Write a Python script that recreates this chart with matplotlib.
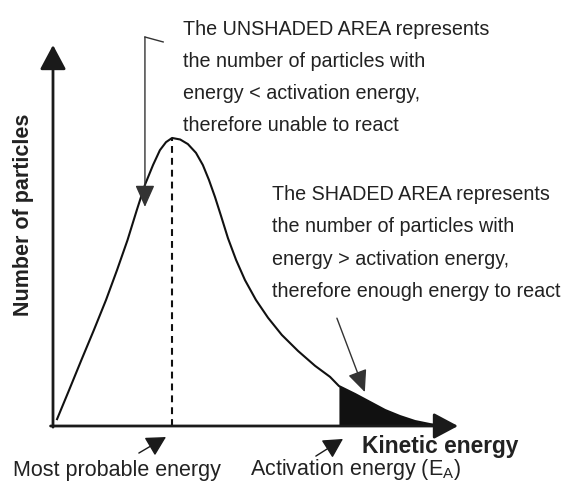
import numpy as np
import matplotlib
matplotlib.use("Agg")
import matplotlib.pyplot as plt

plt.rcParams["font.family"] = ["Liberation Sans", "DejaVu Sans"]

W, H = 563, 484

# curve (energy, number of particles), axes 0..10
energy = np.array([0.10, 0.40, 0.70, 1.01, 1.31, 1.58, 1.84, 2.07, 2.27, 2.47,
                   2.64, 2.79, 2.94, 3.14, 3.33, 3.53, 3.70, 3.85, 4.00, 4.15,
                   4.32, 4.52, 4.74, 5.01, 5.31, 5.65, 6.05, 6.47, 6.84, 7.06,
                   7.46, 7.83, 8.20, 8.57, 8.94, 9.31, 9.56])
count = np.array([0.18, 0.95, 1.73, 2.52, 3.31, 4.09, 4.88, 5.67, 6.33, 6.85,
                  7.24, 7.45, 7.56, 7.52, 7.40, 7.17, 6.85, 6.46, 6.01, 5.51,
                  4.93, 4.36, 3.83, 3.31, 2.84, 2.39, 1.97, 1.58, 1.29, 1.05,
                  0.84, 0.63, 0.42, 0.26, 0.13, 0.05, 0.01])
activation_energy = 7.06

unshaded_text = ["The UNSHADED AREA represents",
                 "the number of particles with",
                 "energy < activation energy,",
                 "therefore unable to react"]
shaded_text = ["The SHADED AREA represents",
               "the number of particles with",
               "energy > activation energy,",
               "therefore enough energy to react"]

TXT = "#222222"


def fpos(x, y):
    # pixel position -> figure fraction
    return x / W, 1 - y / H


fig = plt.figure(figsize=(W / 100, H / 100), dpi=100)
ax = fig.add_axes([53 / W, (H - 426) / H, 405 / W, 381 / H])
ax.set_xlim(0, 10)
ax.set_ylim(0, 10)
ax.axis("off")

# axes with arrow heads
axis_arrow = dict(arrowstyle="-|>,head_length=1.5,head_width=0.8",
                  mutation_scale=10, lw=2.0, color="#1a1a1a",
                  shrinkA=0, shrinkB=0)
ax.annotate("", xy=(10, 0), xytext=(-0.06, 0), arrowprops=axis_arrow,
            annotation_clip=False)
ax.annotate("", xy=(0, 10), xytext=(0, -0.03), arrowprops=axis_arrow,
            annotation_clip=False)

# distribution curve
ax.plot(energy, count, color="#111111", lw=1.5, solid_joinstyle="round",
        clip_on=False)

# shaded area above activation energy
mask = energy >= activation_energy
ax.fill_between(energy[mask], count[mask], 0, color="#111111", lw=0)

# most probable energy
i_peak = np.argmax(count)
ax.plot([energy[i_peak], energy[i_peak]], [0, count[i_peak]],
        color="#111111", lw=1.5, linestyle=(0, (3.3, 2.4)))

# annotation arrows
thin_arrow = dict(arrowstyle="-|>,head_length=1.35,head_width=0.6",
                  mutation_scale=10, lw=1.0, color="#333333",
                  shrinkA=0, shrinkB=0)
ax.plot([2.27, 2.72], [10.21, 10.08], color="#333333", lw=1.0,
        clip_on=False)
ax.annotate("", xy=(2.27, 5.75), xytext=(2.27, 10.21),
            arrowprops=thin_arrow, annotation_clip=False)
ax.annotate("", xy=(7.70, 0.89), xytext=(7.01, 2.83),
            arrowprops=thin_arrow, annotation_clip=False)

small_arrow = dict(arrowstyle="-|>,head_length=1.2,head_width=0.65",
                   mutation_scale=10, lw=1.0, color="#1a1a1a",
                   shrinkA=0, shrinkB=0)
ax.annotate("", xy=(2.79, -0.29), xytext=(2.12, -0.71),
            arrowprops=small_arrow, annotation_clip=False)
ax.annotate("", xy=(7.16, -0.34), xytext=(6.49, -0.79),
            arrowprops=small_arrow, annotation_clip=False)

# text blocks
for i, line in enumerate(unshaded_text):
    fig.text(*fpos(183, 35 + i * 32), line, fontsize=14.2, color=TXT,
             ha="left", va="baseline")
for i, line in enumerate(shaded_text):
    fig.text(*fpos(272, 200 + i * 32.3), line, fontsize=14.2, color=TXT,
             ha="left", va="baseline")

fig.text(*fpos(13, 476), "Most probable energy", fontsize=15.5, color=TXT,
         ha="left", va="baseline")
fig.text(*fpos(250, 475), r"Activation energy (E$_{\mathregular{A}}$)",
         fontsize=15.5, color=TXT, ha="left", va="baseline")
fig.text(*fpos(362, 453), "Kinetic energy", fontsize=16.4, fontweight="bold",
         color=TXT, ha="left", va="baseline")
fig.text(*fpos(24, 215), "Number of particles", fontsize=15.5,
         fontweight="bold", color=TXT, rotation=90, ha="center",
         va="center")

fig.savefig("out.png", dpi=100, facecolor="white")
